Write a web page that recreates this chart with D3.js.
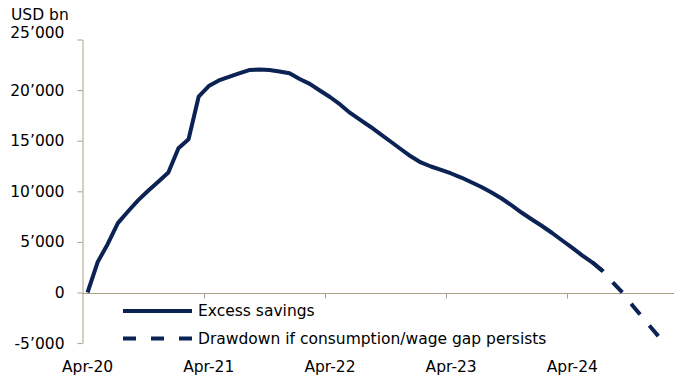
<!DOCTYPE html>
<html>
<head>
<meta charset="utf-8">
<script src="https://cdn.jsdelivr.net/npm/d3@7/dist/d3.min.js"></script>
<style>
  html, body { margin: 0; padding: 0; background: #ffffff; }
  svg { display: block; }
  text { font-family: "DejaVu Sans", sans-serif; fill: #000; }
</style>
</head>
<body>
<svg id="chart" width="674" height="380"></svg>
<script>
// Monthly excess savings, USD bn, from Apr-20 onwards
const excessSavings = [
  0, 3000, 4800, 6850, 8000, 9100, 10050, 10950, 11850, 14250,
  15150, 19350, 20400, 20950, 21300, 21650, 21980, 22030, 21980, 21840,
  21660, 21100, 20620, 19960, 19320, 18580, 17740, 17050, 16380, 15660,
  14920, 14180, 13460, 12850, 12450, 12120, 11760, 11360, 10890, 10420,
  9880, 9290, 8600, 7880, 7210, 6570, 5880, 5140, 4400, 3650,
  2960, 2120
];
// Drawdown path if the consumption/wage gap persists (starts at month index 50)
const drawdownStart = 50;
const drawdown = [2960, 2120, 990, -50, -1330, -2520, -3700, -4900];

const yTicks = [-5000, 0, 5000, 10000, 15000, 20000, 25000];
const xTickLabels = ["Apr-20", "Apr-21", "Apr-22", "Apr-23", "Apr-24"];
const seriesNames = ["Excess savings", "Drawdown if consumption/wage gap persists"];

const navy = "#0b2254";
const axisColor = "#aa9f88";
const fontSize = 15.5;

const svg = d3.select("#chart");

// Monthly categories Apr-20 .. Mar-25
const fmtMonth = d3.timeFormat("%b-%y");
const months = d3.timeMonth.range(new Date(2020, 3, 1), new Date(2025, 3, 1)).map(fmtMonth);

const x = d3.scaleBand().domain(months).range([82.5, 82.5 + 10.1 * months.length]).padding(0);
const xc = i => x(months[i]) + x.bandwidth() / 2;
const y = d3.scaleLinear().domain([-5000, 25000]).range([343.1, 39.5]);

const locale = d3.formatLocale({ decimal: ".", thousands: "\u2019", grouping: [3], currency: ["", ""], minus: "-" });
const fmt = locale.format(",");

// Y axis
const yAxis = svg.append("g")
  .attr("transform", `translate(${x.range()[0]},0)`)
  .call(d3.axisLeft(y).tickValues(yTicks).tickFormat(fmt).tickSize(5).tickSizeOuter(0).tickPadding(13));
yAxis.select(".domain").attr("stroke", axisColor).attr("stroke-width", 1);
yAxis.selectAll(".tick line").attr("stroke", axisColor);
yAxis.selectAll(".tick text")
  .attr("font-size", fontSize)
  .attr("font-family", "DejaVu Sans, sans-serif")
  .attr("fill", "#000")
  .filter(d => d === 25000).attr("dy", "-0.15em");

// Zero line with yearly tick marks
const zeroY = Math.round(y(0)) + 0.5;
svg.append("line")
  .attr("x1", x.range()[0]).attr("x2", 674)
  .attr("y1", zeroY).attr("y2", zeroY)
  .attr("stroke", axisColor).attr("stroke-width", 1);

const tickIdx = xTickLabels.map(l => months.indexOf(l));
svg.append("g").selectAll("line")
  .data(tickIdx.filter(i => i > 0))
  .join("line")
  .attr("x1", i => Math.round(x(months[i])) + 0.5)
  .attr("x2", i => Math.round(x(months[i])) + 0.5)
  .attr("y1", zeroY).attr("y2", zeroY + 5)
  .attr("stroke", axisColor).attr("stroke-width", 1);

// X labels along the bottom
svg.append("g").selectAll("text")
  .data(tickIdx)
  .join("text")
  .attr("x", i => xc(i))
  .attr("y", 372)
  .attr("text-anchor", "middle")
  .attr("font-size", fontSize)
  .text(i => months[i]);

// Unit label
svg.append("text").attr("x", 11).attr("y", 20).attr("font-size", fontSize).text("USD bn");

// Series lines
const line = d3.line().x(d => xc(d.i)).y(d => y(d.v)).curve(d3.curveLinear);

svg.append("path")
  .datum(drawdown.map((v, k) => ({ i: drawdownStart + k, v })))
  .attr("d", line)
  .attr("fill", "none")
  .attr("stroke", navy)
  .attr("stroke-width", 4)
  .attr("stroke-dasharray", "14,14.3");

svg.append("path")
  .datum(excessSavings.map((v, i) => ({ i, v })))
  .attr("d", line)
  .attr("fill", "none")
  .attr("stroke", navy)
  .attr("stroke-width", 4)
  .attr("stroke-linejoin", "round");

// Legend
const legend = svg.append("g");
const legendRows = [
  { name: seriesNames[0], y: 311, dash: null, base: 316 },
  { name: seriesNames[1], y: 338.5, dash: "13,15", base: 343.5 }
];
legendRows.forEach(r => {
  legend.append("line")
    .attr("x1", 123).attr("x2", 192)
    .attr("y1", r.y).attr("y2", r.y)
    .attr("stroke", navy).attr("stroke-width", 4)
    .attr("stroke-dasharray", r.dash);
  legend.append("text")
    .attr("x", 198).attr("y", r.base)
    .attr("font-size", fontSize)
    .text(r.name);
});
</script>
</body>
</html>
